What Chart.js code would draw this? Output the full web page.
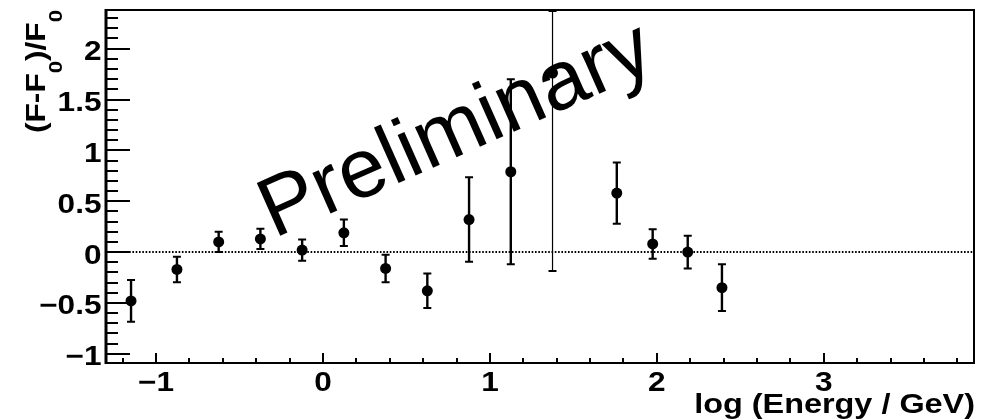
<!DOCTYPE html>
<html>
<head>
<meta charset="utf-8">
<title>Spectral residuals</title>
<script src="https://cdn.jsdelivr.net/npm/chart.js@4.4.1/dist/chart.umd.min.js"></script>
<style>
  html, body { margin: 0; padding: 0; background: #ffffff; }
  #wrap { width: 988px; height: 419px; position: relative; }
</style>
</head>
<body>
<div id="wrap"><canvas id="c" width="988" height="419"></canvas></div>
<script>
// Bin centres, log10(E / GeV)
const logE = [-1.15, -0.875, -0.625, -0.375, -0.125, 0.125, 0.375, 0.625, 0.875, 1.125, 1.76, 1.975, 2.185, 2.39];
// Fractional residual (F - F0) / F0 and its symmetric 1-sigma error
const residual = [-0.48, -0.17, 0.10, 0.13, 0.02, 0.19, -0.16, -0.38, 0.32, 0.79, 0.58, 0.08, 0.00, -0.35];
const residualErr = [0.205, 0.125, 0.10, 0.10, 0.105, 0.13, 0.135, 0.17, 0.415, 0.91, 0.30, 0.145, 0.16, 0.23];

// Poorly constrained bin, drawn with a thin error bar
const wideLogE = [1.375];
const wideResidual = [1.76];
const wideErrLow = [1.945];
const wideErrHigh = [0.61];

// Axis ranges and labelled ticks
const xRange = [-1.3, 3.9];
const yRange = [-1.09, 2.38];
const xTickLabels = [-1, 0, 1, 2, 3];
const yTickLabels = [-1, -0.5, 0, 0.5, 1, 1.5, 2];

const xTitle = 'log (Energy / GeV)';
const watermark = 'Preliminary';

const FONT = '"Liberation Sans", Arial, Helvetica, sans-serif';
const WIDE = 1.17;   // horizontal expansion of the bold axis lettering

function fmt(v) {
  return v < 0 ? '\u2212' + String(Math.abs(v)) : String(v);
}

function points(xs, ys) {
  return xs.map((x, i) => ({ x: x, y: ys[i] }));
}

// text drawn with a horizontal expansion factor k
function wideText(ctx, text, x, y, font, align, k) {
  ctx.save();
  ctx.font = font;
  ctx.textAlign = 'left';
  ctx.textBaseline = 'alphabetic';
  ctx.fillStyle = '#000';
  const w = ctx.measureText(text).width * k;
  const x0 = align === 'right' ? x - w : (align === 'center' ? x - w / 2 : x);
  ctx.translate(x0, y);
  ctx.scale(k, 1);
  ctx.fillText(text, 0, 0);
  ctx.restore();
}

// Error bars, zero line, frame, inner ticks, labels, titles and watermark
const decorations = {
  id: 'decorations',
  beforeDatasetsDraw(chart) {
    const { ctx, chartArea: a, scales: { y } } = chart;
    ctx.save();
    ctx.beginPath();
    ctx.rect(a.left, a.top, a.right - a.left, a.bottom - a.top);
    ctx.clip();

    // dotted reference line at zero
    const y0 = y.getPixelForValue(0);
    ctx.beginPath();
    ctx.setLineDash([1.6, 1.7]);
    ctx.lineWidth = 2;
    ctx.strokeStyle = '#000';
    ctx.moveTo(a.left, y0);
    ctx.lineTo(a.right, y0);
    ctx.stroke();
    ctx.setLineDash([]);

    // vertical error bars with end caps
    chart.data.datasets.forEach((ds, di) => {
      const meta = chart.getDatasetMeta(di);
      meta.data.forEach((pt, i) => {
        const v = ds.data[i].y;
        const top = Math.max(y.getPixelForValue(v + ds.errHigh[i]), a.top + 1);
        const bot = Math.min(y.getPixelForValue(v - ds.errLow[i]), a.bottom - 1);
        const px = pt.x;
        ctx.strokeStyle = '#000';
        ctx.lineWidth = ds.errWidth;
        ctx.beginPath();
        ctx.moveTo(px, top);
        ctx.lineTo(px, bot);
        ctx.stroke();
        ctx.lineWidth = 2;
        ctx.beginPath();
        ctx.moveTo(px - 4, top); ctx.lineTo(px + 4, top);
        ctx.moveTo(px - 4, bot); ctx.lineTo(px + 4, bot);
        ctx.stroke();
      });
    });
    ctx.restore();
  },
  afterDraw(chart) {
    const { ctx, chartArea: a, scales: { x, y } } = chart;
    ctx.save();
    ctx.strokeStyle = '#000';

    // frame
    ctx.lineWidth = 2;
    ctx.strokeRect(a.left, a.top, a.right - a.left, a.bottom - a.top);
    ctx.lineWidth = 3;
    ctx.beginPath();
    ctx.moveTo(a.left, a.top - 1);
    ctx.lineTo(a.left, a.bottom + 1);
    ctx.stroke();

    // y ticks: major every 0.5, minor every 0.1, drawn inward
    ctx.lineWidth = 2;
    ctx.beginPath();
    for (let k = -10; k <= 23; k++) {
      const py = Math.round(y.getPixelForValue(k / 10));
      const len = (k % 5 === 0) ? 24 : 12;
      ctx.moveTo(a.left, py);
      ctx.lineTo(a.left + len, py);
    }
    ctx.stroke();

    // x ticks: major every 1, minor every 0.2, drawn inward
    ctx.beginPath();
    for (let k = -6; k <= 19; k++) {
      const px = Math.round(x.getPixelForValue(k / 5));
      const len = (k % 5 === 0) ? 10 : 5;
      ctx.moveTo(px, a.bottom);
      ctx.lineTo(px, a.bottom - len);
    }
    ctx.stroke();
    ctx.restore();

    // tick labels at the scale's tick positions
    const labelFont = 'bold 27px ' + FONT;
    y.ticks.forEach(t => {
      wideText(ctx, fmt(t.value), 101.5, y.getPixelForValue(t.value) + 11.5, labelFont, 'right', WIDE);
    });
    x.ticks.forEach(t => {
      wideText(ctx, fmt(t.value), x.getPixelForValue(t.value), a.bottom + 28, labelFont, 'center', WIDE);
    });

    // x-axis title, right aligned with the end of the axis
    wideText(ctx, xTitle, a.right + 1, 412.5, 'bold 27px ' + FONT, 'right', 1.2);

    // y-axis title (F-F_0)/F_0, rotated, ending at the top of the axis
    ctx.save();
    const main = 'bold 27px ' + FONT;
    const sub = 'bold 19px ' + FONT;
    const parts = [['(F-F', main, 0], ['0', sub, 17], [')/F', main, 0], ['0', sub, 17]];
    const k = 1.17;
    let total = 0;
    parts.forEach(p => { ctx.font = p[1]; total += ctx.measureText(p[0]).width * k; });
    ctx.translate(45, a.top + total);
    ctx.rotate(-Math.PI / 2);
    ctx.scale(k, 1);
    ctx.fillStyle = '#000';
    ctx.textBaseline = 'alphabetic';
    ctx.textAlign = 'left';
    let u = 0;
    parts.forEach(p => {
      ctx.font = p[1];
      ctx.fillText(p[0], u, p[2]);
      u += ctx.measureText(p[0]).width;
    });
    ctx.restore();

    // watermark
    ctx.save();
    ctx.translate(466, 153);
    ctx.rotate(-24 * Math.PI / 180);
    ctx.font = '84px ' + FONT;
    ctx.fillStyle = '#000';
    ctx.textAlign = 'center';
    ctx.textBaseline = 'alphabetic';
    ctx.fillText(watermark, 0, 0);
    ctx.restore();
  }
};

new Chart(document.getElementById('c'), {
  type: 'scatter',
  data: {
    datasets: [
      {
        data: points(logE, residual),
        errLow: residualErr,
        errHigh: residualErr,
        errWidth: 2.4,
        backgroundColor: '#000',
        borderWidth: 0,
        pointRadius: 5.5,
        pointHoverRadius: 5.5
      },
      {
        data: points(wideLogE, wideResidual),
        errLow: wideErrLow,
        errHigh: wideErrHigh,
        errWidth: 1.2,
        backgroundColor: '#000',
        borderWidth: 0,
        pointRadius: 5.5,
        pointHoverRadius: 5.5
      }
    ]
  },
  options: {
    responsive: false,
    animation: false,
    devicePixelRatio: 1,
    layout: { padding: { left: 0, top: 10, right: 14, bottom: 0 } },
    plugins: { legend: { display: false }, tooltip: { enabled: false } },
    scales: {
      x: {
        type: 'linear',
        min: xRange[0],
        max: xRange[1],
        grid: { display: false, drawTicks: false },
        border: { display: false },
        afterBuildTicks: s => { s.ticks = xTickLabels.map(v => ({ value: v })); },
        afterFit: s => { s.height = 56; s.paddingLeft = 0; s.paddingRight = 0; },
        ticks: { display: false, autoSkip: false }
      },
      y: {
        type: 'linear',
        min: yRange[0],
        max: yRange[1],
        grid: { display: false, drawTicks: false },
        border: { display: false },
        afterBuildTicks: s => { s.ticks = yTickLabels.map(v => ({ value: v })); },
        afterFit: s => { s.width = 106; s.paddingTop = 0; s.paddingBottom = 0; },
        ticks: { display: false, autoSkip: false }
      }
    }
  },
  plugins: [decorations]
});
</script>
</body>
</html>
